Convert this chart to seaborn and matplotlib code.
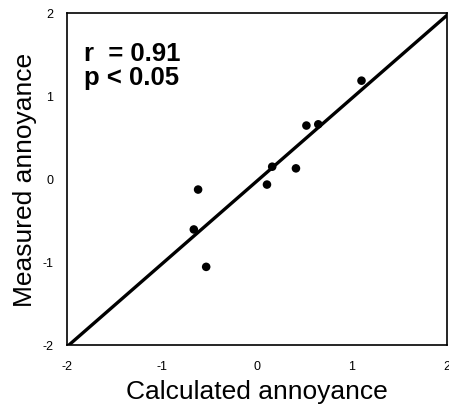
import matplotlib
matplotlib.use("Agg")
import matplotlib.pyplot as plt
import seaborn as sns
import numpy as np
import pandas as pd

calculated = [1.10, 0.52, 0.645, 0.16, 0.41, 0.105, -0.62, -0.665, -0.535]
measured = [1.18, 0.64, 0.655, 0.145, 0.125, -0.07, -0.13, -0.61, -1.06]
ticks = [-2, -1, 0, 1, 2]
stat_text = "r  = 0.91\np < 0.05"

sns.set_style("white")
plt.rcParams['font.family'] = ['Liberation Sans', 'DejaVu Sans']

df = pd.DataFrame({"calc": calculated, "meas": measured})

fig = plt.figure(figsize=(4.49, 4.10), dpi=100)
ax = fig.add_axes([67/449, 64/410, 380/449, 332.5/410])
ax.set_xlim(-2, 2)
ax.set_ylim(-2, 2)

sns.regplot(data=df, x="calc", y="meas", ax=ax, ci=None, truncate=False,
            color="black",
            scatter_kws=dict(s=38, color="black", edgecolor="none", alpha=1),
            line_kws=dict(lw=2.4, color="black"))
ax.set_xlim(-2, 2)
ax.set_ylim(-2, 2)

ax.set_xticks(ticks)
ax.set_yticks(ticks)
ax.set_xticklabels([str(t) for t in ticks])
ax.set_yticklabels([str(t) for t in ticks])
ax.tick_params(direction="in", length=3, width=1, labelsize=9, pad=10.5,
               color="black", labelcolor="black")
ax.tick_params(axis="y", pad=10)

for sp in ax.spines.values():
    sp.set_visible(True)
    sp.set_color("black")
    sp.set_linewidth(1.2)

ax.set_xlabel("Calculated annoyance", fontsize=19, labelpad=5, color="black")
ax.set_ylabel("Measured annoyance", fontsize=19, labelpad=4, color="black")

ax.text(0.045, 0.915, stat_text, transform=ax.transAxes, fontsize=18.5,
        fontweight="bold", va="top", ha="left", linespacing=1.0, color="black")

fig.savefig("out.png", dpi=100)
